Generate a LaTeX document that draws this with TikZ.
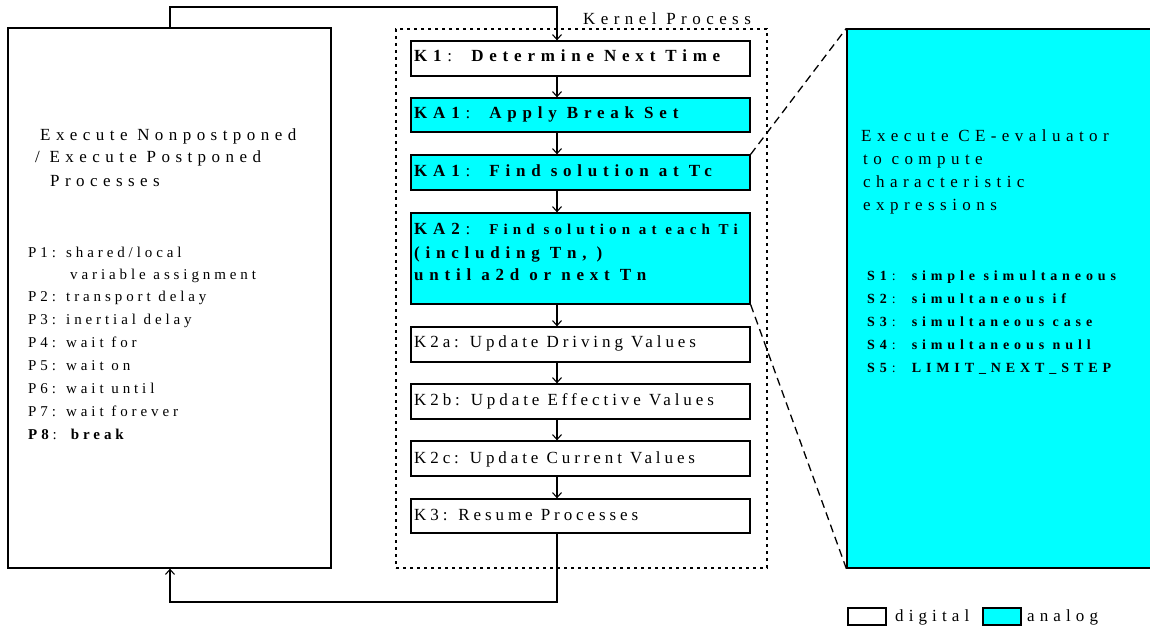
\documentclass[tikz,border=0pt]{standalone}
\usepackage{fontspec}
\setmainfont{Liberation Serif}
% letter-spaced faces for the different text groups
\newfontfamily\fH[LetterSpace=32]{Liberation Serif}
\newfontfamily\fK[LetterSpace=23]{Liberation Serif}
\newfontfamily\fB[LetterSpace=34]{Liberation Serif}
\newfontfamily\fP[LetterSpace=26]{Liberation Serif}
\newfontfamily\fS[LetterSpace=35]{Liberation Serif}
\newfontfamily\fL[LetterSpace=30]{Liberation Serif}
\usetikzlibrary{arrows.meta}
\definecolor{analog}{RGB}{0,255,255}
\tikzset{
  box/.style={draw, line width=1.3pt, minimum width=339pt, inner sep=0pt},
  dbox/.style={box, fill=white},
  abox/.style={box, fill=analog},
  txt/.style={anchor=base west, inner sep=0pt},
  head/.style={txt, font=\fH\szA},
  ktxt/.style={txt, font=\fK\szA},
  btxt/.style={txt, font=\fB\szA},
  ptxt/.style={txt, font=\fP\szB},
  stxt/.style={txt, font=\fS\szC},
  arr/.style={line width=1.2pt, -{Straight Barb[length=5pt,width=9pt,line width=1.1pt]}},
  link/.style={line width=1.3pt, dash pattern=on 8pt off 5pt},
}
\newcommand{\szA}{\fontsize{17}{20}\selectfont}
\newcommand{\szB}{\fontsize{15}{18}\selectfont}
\newcommand{\szC}{\fontsize{14}{18}\selectfont}
\begin{document}
\begin{tikzpicture}[x=1pt, y=-1pt]
\useasboundingbox (0,0) rectangle (1150,631);

% process execution
\node[draw, line width=1.3pt, minimum width=323pt, minimum height=540pt, inner sep=0pt] (lb) at (169.5,298) {};
\node[head] (l1) at (40,141) {Execute Nonpostponed};
\node[head] (l2) at (35,163) {/ Execute Postponed};
\node[head] (l3) at (50,186) {Processes};
\node[ptxt] (p1) at (28,257) {P1: shared/local};
\node[ptxt] (p1b) at (70,279) {variable assignment};
\node[ptxt] (p2) at (28,301) {P2: transport delay};
\node[ptxt] (p3) at (28,324) {P3: inertial delay};
\node[ptxt] (p4) at (28,347) {P4: wait for};
\node[ptxt] (p5) at (28,370) {P5: wait on};
\node[ptxt] (p6) at (28,393) {P6: wait until};
\node[ptxt] (p7) at (28,416) {P7: wait forever};
\node[ptxt] (p8) at (28,439) {\textbf{P8}: \textbf{break}};

% kernel process
\node[draw, line width=2pt, dash pattern=on 3pt off 4pt, minimum width=371pt, minimum height=539pt, inner sep=0pt] (kern) at (581.5,298.5) {};
\node[head] (kl) at (583,25) {Kernel Process};

\node[dbox, minimum height=35pt] (k1) at (580.5,58.5) {};
\node[abox, minimum height=34pt] (ka1) at (580.5,115) {};
\node[abox, minimum height=35pt] (ka1b) at (580.5,172.5) {};
\node[abox, minimum height=91pt] (ka2) at (580.5,258.5) {};
\node[dbox, minimum height=35pt] (k2a) at (580.5,344.5) {};
\node[dbox, minimum height=35pt] (k2b) at (580.5,401.5) {};
\node[dbox, minimum height=35pt] (k2c) at (580.5,458.5) {};
\node[dbox, minimum height=34pt] (k3) at (580.5,516) {};

\node[btxt] (t1) at (414,62) {\textbf{K1}: \textbf{Determine Next Time}};
\node[btxt] (t2) at (414,119) {\textbf{KA1}: \textbf{Apply Break Set}};
\node[btxt] (t3) at (414,177) {\textbf{KA1}: \textbf{Find solution at Tc}};
\node[btxt] (t4) at (414,234) {\textbf{KA2}: {\szB\textbf{Find solution at each Ti}}};
\node[btxt] (t4b) at (414,258) {\textbf{(including Tn, )}};
\node[btxt] (t4c) at (414,280) {\textbf{until a2d or next Tn}};
\node[ktxt] (t5) at (414,347) {K2a: Update Driving Values};
\node[ktxt] (t6) at (414,405) {K2b: Update Effective Values};
\node[ktxt] (t7) at (414,463) {K2c: Update Current Values};
\node[ktxt] (t8) at (414,520) {K3: Resume Processes};

% CE-evaluator detail
\node[draw, fill=analog, line width=1.3pt, minimum width=320pt, minimum height=539pt, inner sep=0pt] (ce) at (1007,298.5) {};
\node[head] (c1) at (861,142) {Execute CE-evaluator};
\node[head] (c2) at (863,165) {to compute};
\node[head] (c3) at (863,188) {characteristic};
\node[head] (c4) at (863,210) {expressions};
\node[stxt] (s1) at (867,280) {\textbf{S1}: \textbf{simple simultaneous}};
\node[stxt] (s2) at (867,303) {\textbf{S2}: \textbf{simultaneous if}};
\node[stxt] (s3) at (867,326) {\textbf{S3}: \textbf{simultaneous case}};
\node[stxt] (s4) at (867,349) {\textbf{S4}: \textbf{simultaneous null}};
\node[stxt] (s5) at (867,372) {\textbf{S5}: \textbf{LIMIT\_NEXT\_STEP}};

\draw[link] (ka1b.north east) -- (ce.north west);
\draw[link] (ka2.south east) -- (ce.south west);

% control flow
\draw[arr] (170,0 |- lb.north) |- (557,7) -- (557,0 |- k1.north);
\draw[arr] (557,0 |- k1.south) -- (557,0 |- ka1.north);
\draw[arr] (557,0 |- ka1.south) -- (557,0 |- ka1b.north);
\draw[arr] (557,0 |- ka1b.south) -- (557,0 |- ka2.north);
\draw[arr] (557,0 |- ka2.south) -- (557,0 |- k2a.north);
\draw[arr] (557,0 |- k2a.south) -- (557,0 |- k2b.north);
\draw[arr] (557,0 |- k2b.south) -- (557,0 |- k2c.north);
\draw[arr] (557,0 |- k2c.south) -- (557,0 |- k3.north);
\draw[arr] (557,0 |- k3.south) |- (170,602) -- (170,0 |- lb.south);

% legend
\node[draw, line width=1.3pt, minimum width=38pt, minimum height=17pt, inner sep=0pt] (lgd) at (867,616.5) {};
\node[txt, font=\fL\szA] (lgdt) at (895,621) {digital};
\node[draw, fill=analog, line width=1.3pt, minimum width=38pt, minimum height=17pt, inner sep=0pt] (lga) at (1002,616.5) {};
\node[txt, font=\fL\szA] (lgat) at (1027,621) {analog};
\end{tikzpicture}
\end{document}
